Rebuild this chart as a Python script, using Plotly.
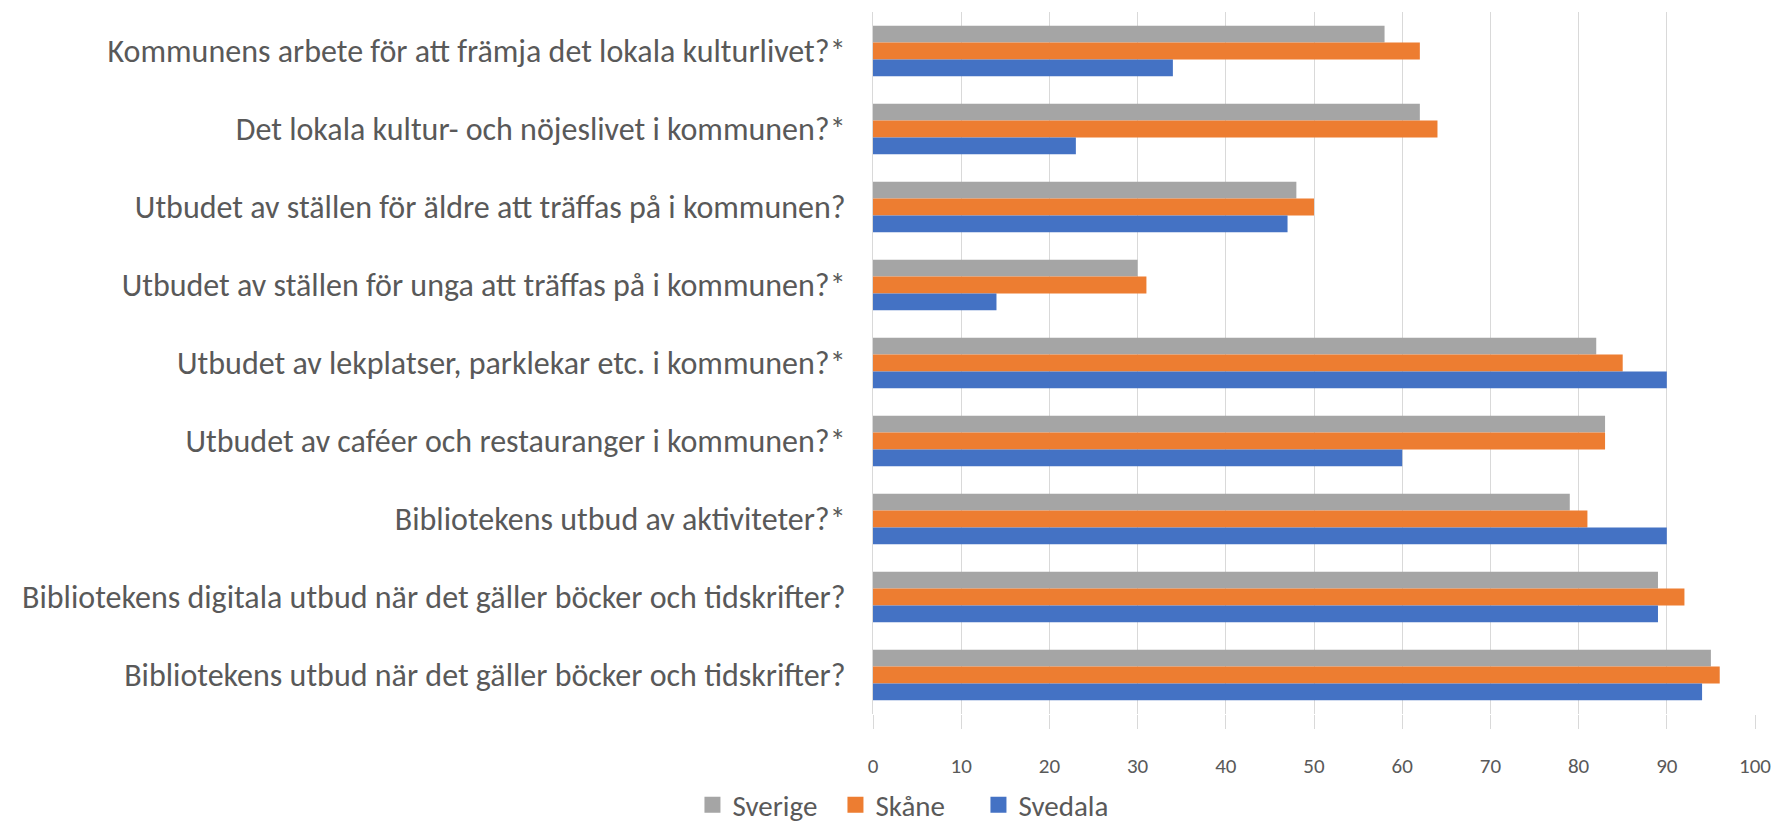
import plotly.graph_objects as go

categories = [
    "Kommunens arbete för att främja det lokala kulturlivet?*",
    "Det lokala kultur- och nöjeslivet i kommunen?*",
    "Utbudet av ställen för äldre att träffas på i kommunen?",
    "Utbudet av ställen för unga att träffas på i kommunen?*",
    "Utbudet av lekplatser, parklekar etc. i kommunen?*",
    "Utbudet av caféer och restauranger i kommunen?*",
    "Bibliotekens utbud av aktiviteter?*",
    "Bibliotekens digitala utbud när det gäller böcker och tidskrifter?",
    "Bibliotekens utbud när det gäller böcker och tidskrifter?",
]
sverige = [58, 62, 48, 30, 82, 83, 79, 89, 95]
skane = [62, 64, 50, 31, 85, 83, 81, 92, 96]
svedala = [34, 23, 47, 14, 90, 60, 90, 89, 94]
series_names = ["Sverige", "Skåne", "Svedala"]
series_colors = ["#A5A5A5", "#ED7D31", "#4472C4"]
tick_vals = [0, 10, 20, 30, 40, 50, 60, 70, 80, 90, 100]

FONT = "Calibri, Carlito, Lato, sans-serif"
TXT = "#595959"

fig = go.Figure()
for name, vals, col in zip(series_names, [sverige, skane, svedala], series_colors):
    fig.add_trace(go.Bar(y=categories, x=vals, name=name, orientation="h",
                         marker=dict(color=col, line=dict(width=0)),
                         showlegend=False, legendgroup=name))
# legend entries with larger square swatches
for name, col in zip(series_names, series_colors):
    fig.add_trace(go.Scatter(x=[None], y=[None], mode="markers", name=name,
                             legendgroup=name,
                             marker=dict(symbol="square", size=18, color=col),
                             showlegend=True, hoverinfo="skip"))

# the page body has an 8px margin, so the figure is sized to fit the window
fig.update_layout(
    width=1771, height=818,
    barmode="group", bargap=0.35, bargroupgap=0,
    plot_bgcolor="white", paper_bgcolor="white",
    margin=dict(l=865, r=24, t=4, b=112, autoexpand=False),
    font=dict(family=FONT, color=TXT),
    xaxis=dict(range=[0, 100], tickvals=tick_vals, showgrid=True,
               gridcolor="#D9D9D9", gridwidth=1, zeroline=False,
               ticks="outside", ticklen=14, tickcolor="#D9D9D9",
               tickfont=dict(size=21, color=TXT), showline=False,
               automargin=False, ticklabelstandoff=19),
    yaxis=dict(autorange="reversed", showgrid=False, ticks="",
               tickfont=dict(size=32, color=TXT), showline=True,
               linecolor="#D9D9D9", automargin=False, ticklabelstandoff=20),
    legend=dict(orientation="h", xref="container", yref="container",
                x=0.5076, xanchor="center", y=0.0257, yanchor="middle",
                entrywidth=98, entrywidthmode="pixels",
                font=dict(size=29, color=TXT), traceorder="normal"),
    showlegend=True,
)

fig.write_html("out.html")
